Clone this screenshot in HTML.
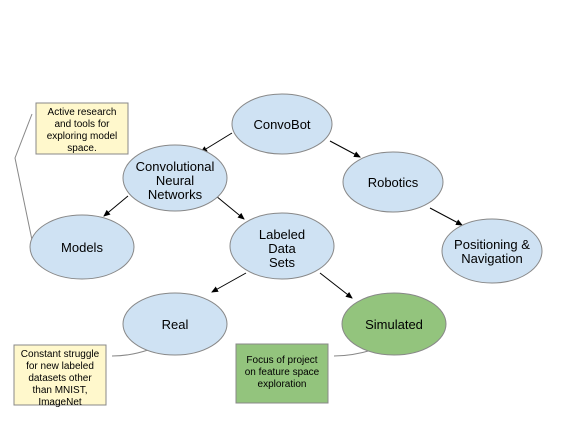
<!DOCTYPE html><html><head><style>body{margin:0;background:#fff}svg{display:block}text{font-family:"Liberation Sans",sans-serif}</style></head><body>
<svg width="565" height="424" viewBox="0 0 565 424">
<defs><marker id="a" markerWidth="7" markerHeight="7" refX="6" refY="3.5" orient="auto" markerUnits="userSpaceOnUse"><path d="M0,0.5 L7,3.5 L0,6.5z" fill="#000"/></marker></defs>
<g stroke="#888" fill="none" stroke-width="1">
<polyline points="32,114 15,158 32,240"/>
<path d="M112,356 Q130,356 148,350"/>
<path d="M334,356 Q352,356 372,350"/>
</g>
<g stroke="#000" stroke-width="1" marker-end="url(#a)">
<line x1="232" y1="133" x2="201" y2="152"/>
<line x1="330" y1="141" x2="360" y2="157"/>
<line x1="128" y1="196" x2="104" y2="216"/>
<line x1="216" y1="196" x2="244" y2="219"/>
<line x1="430" y1="208" x2="462" y2="225"/>
<line x1="246" y1="273" x2="212" y2="292"/>
<line x1="320" y1="273" x2="352" y2="298"/>
</g>
<g stroke="#888" stroke-width="1" fill="#cfe2f3">
<ellipse cx="282" cy="124" rx="50" ry="30"/>
<ellipse cx="175" cy="178" rx="52" ry="33"/>
<ellipse cx="393" cy="182" rx="50" ry="30"/>
<ellipse cx="82" cy="247" rx="52" ry="32"/>
<ellipse cx="282" cy="246" rx="52" ry="33"/>
<ellipse cx="492" cy="251" rx="50" ry="32"/>
<ellipse cx="175" cy="324" rx="52" ry="31"/>
<ellipse cx="394" cy="324" rx="52" ry="31" fill="#93c47d"/>
<rect x="36" y="103" width="92" height="51" fill="#fff8cc"/>
<rect x="14" y="345" width="92" height="60" fill="#fff8cc"/>
<rect x="236" y="344" width="92" height="59" fill="#93c47d"/>
</g>
<g font-size="13" text-anchor="middle" fill="#000">
<text x="282" y="129">ConvoBot</text>
<text x="175" y="171">Convolutional</text><text x="175" y="185">Neural</text><text x="175" y="199">Networks</text>
<text x="393" y="187">Robotics</text>
<text x="82" y="252">Models</text>
<text x="282" y="239">Labeled</text><text x="282" y="253">Data</text><text x="282" y="267">Sets</text>
<text x="492" y="249">Positioning &amp;</text><text x="492" y="263">Navigation</text>
<text x="175" y="329">Real</text>
<text x="394" y="329">Simulated</text>
</g>
<g font-size="10" text-anchor="middle" fill="#000">
<text x="82" y="115">Active research</text><text x="82" y="127">and tools for</text><text x="82" y="139">exploring model</text><text x="82" y="151">space.</text>
<text x="60" y="357">Constant struggle</text><text x="60" y="369">for new labeled</text><text x="60" y="381">datasets other</text><text x="60" y="393">than MNIST,</text><text x="60" y="405">ImageNet</text>
<text x="282" y="363">Focus of project</text><text x="282" y="375">on feature space</text><text x="282" y="387">exploration</text>
</g>
</svg></body></html>
